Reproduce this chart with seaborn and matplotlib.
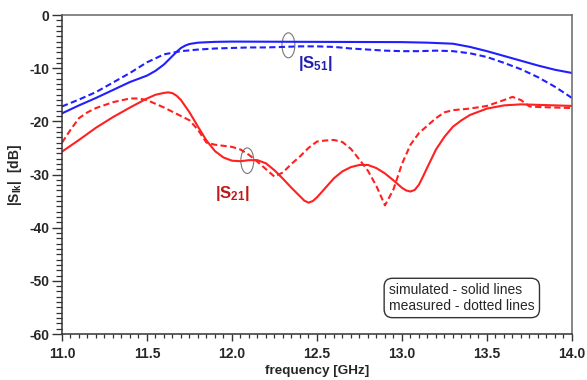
import matplotlib
matplotlib.use("Agg")
import matplotlib.pyplot as plt
from matplotlib.patches import Ellipse
from matplotlib.ticker import MultipleLocator
import pandas as pd
import seaborn as sns

# |S51| simulated
f_s51_sim = [11.0, 11.1, 11.2, 11.3, 11.4, 11.5, 11.55, 11.6, 11.625, 11.65, 11.675, 11.7,
             11.725, 11.75, 11.8, 11.9, 12.0, 12.5, 13.0, 13.15, 13.3, 13.4, 13.5, 13.6,
             13.7, 13.8, 13.9, 14.0]
s51_sim = [-18.5, -17.0, -15.6, -14.1, -12.6, -11.4, -10.5, -9.3, -8.5, -7.7, -6.9, -6.2,
           -5.75, -5.45, -5.2, -5.05, -5.0, -5.05, -5.1, -5.2, -5.4, -6.0, -6.8, -7.7,
           -8.6, -9.5, -10.3, -10.9]

# |S51| measured
f_s51_meas = [11.0, 11.1, 11.2, 11.3, 11.4, 11.5, 11.6, 11.7, 11.8, 11.9, 12.0, 12.1, 12.2,
              12.3, 12.4, 12.5, 12.6, 12.7, 12.8, 12.9, 13.0, 13.1, 13.2, 13.3, 13.4, 13.5,
              13.6, 13.7, 13.8, 13.9, 14.0]
s51_meas = [-17.2, -15.9, -14.5, -12.7, -10.9, -8.9, -7.4, -6.8, -6.5, -6.3, -6.2, -6.1, -6.1,
            -6.0, -5.9, -5.9, -6.0, -6.3, -6.5, -6.7, -6.8, -6.8, -6.7, -6.8, -7.2, -7.9,
            -9.0, -10.2, -11.7, -13.5, -15.6]

# |S21| simulated
f_s21_sim = [11.0, 11.1, 11.2, 11.3, 11.4, 11.5, 11.55, 11.6, 11.625, 11.65, 11.675, 11.7,
             11.75, 11.8, 11.85, 11.9, 11.95, 12.0, 12.05, 12.1, 12.15, 12.2, 12.25, 12.3,
             12.35, 12.4, 12.425, 12.45, 12.475, 12.5, 12.55, 12.6, 12.65, 12.7, 12.75, 12.8,
             12.85, 12.9, 12.95, 13.0, 13.025, 13.05, 13.075, 13.1, 13.125, 13.15, 13.2,
             13.25, 13.3, 13.35, 13.4, 13.5, 13.6, 13.7, 13.8, 13.9, 14.0]
s21_sim = [-25.7, -23.5, -21.2, -19.2, -17.4, -15.7, -15.0, -14.65, -14.55, -14.7, -15.2, -16.0,
           -18.3, -21.0, -23.6, -25.6, -26.8, -27.4, -27.5, -27.3, -27.3, -27.9, -29.2, -30.8,
           -32.5, -34.1, -34.9, -35.3, -35.0, -34.3, -32.5, -30.7, -29.4, -28.6, -28.2, -28.2,
           -28.8, -29.8, -31.1, -32.5, -33.0, -33.2, -32.9, -31.9, -30.3, -28.6, -25.3,
           -22.9, -21.0, -19.8, -18.8, -17.6, -17.0, -16.8, -16.9, -17.0, -17.1]

# |S21| measured
f_s21_meas = [11.0, 11.05, 11.1, 11.15, 11.2, 11.3, 11.4, 11.45, 11.5, 11.6, 11.7, 11.75, 11.8,
              11.85, 11.9, 11.95, 12.0, 12.05, 12.1, 12.15, 12.2, 12.25, 12.3, 12.35, 12.4,
              12.45, 12.5, 12.55, 12.6, 12.65, 12.7, 12.75, 12.8, 12.85, 12.9, 12.95, 13.0,
              13.05, 13.1, 13.15, 13.2, 13.25, 13.3, 13.4, 13.5, 13.6, 13.65, 13.7, 13.75,
              13.8, 13.9, 14.0]
s21_meas = [-24.0, -21.6, -19.4, -18.3, -17.5, -16.4, -15.7, -15.7, -16.0, -17.4, -19.0, -19.8,
            -21.6, -24.0, -24.4, -24.6, -24.8, -25.3, -26.3, -27.6, -29.0, -30.4, -29.6, -28.0,
            -26.6, -25.0, -23.8, -23.6, -23.5, -23.9, -25.2, -27.2, -29.3, -32.2, -35.8, -32.8,
            -28.0, -24.4, -22.2, -20.8, -19.4, -18.3, -17.9, -17.6, -17.1, -16.0, -15.4, -16.0,
            -17.2, -17.3, -17.4, -17.5]

x_ticks = [11.0, 11.5, 12.0, 12.5, 13.0, 13.5, 14.0]
y_ticks = [0, -10, -20, -30, -40, -50, -60]

BLUE = "#1f1fff"
RED = "#ff2020"

sns.set_style("ticks")
plt.rcParams["font.family"] = ["Liberation Sans", "DejaVu Sans"]
plt.rcParams["mathtext.fontset"] = "custom"
plt.rcParams["mathtext.rm"] = "Liberation Sans:bold"
plt.rcParams["mathtext.it"] = "Liberation Sans:bold"
plt.rcParams["mathtext.bf"] = "Liberation Sans:bold"

fig = plt.figure(figsize=(5.87, 3.80), dpi=100)
ax = fig.add_axes([0.1056, 0.121, 0.8688, 0.8395])

series = [
    (f_s51_sim, s51_sim, BLUE, False),
    (f_s51_meas, s51_meas, BLUE, True),
    (f_s21_sim, s21_sim, RED, False),
    (f_s21_meas, s21_meas, RED, True),
]
for freq, vals, col, dashed in series:
    df = pd.DataFrame({"freq": freq, "val": vals})
    sns.lineplot(data=df, x="freq", y="val", ax=ax, color=col, lw=1.5,
                 estimator=None, sort=True, legend=False,
                 linestyle="--" if dashed else "-")
    if dashed:
        ax.lines[-1].set_dashes((3.0, 1.6))

ax.set_xlim(11.0, 14.0)
ax.set_ylim(-60, 0)
ax.set_xticks(x_ticks)
ax.set_yticks(y_ticks)
ax.set_xticklabels([f"{v:.1f}" for v in x_ticks], fontweight="bold", fontsize=10)
ax.set_yticklabels([str(v) for v in y_ticks], fontweight="bold", fontsize=10)
ax.xaxis.set_minor_locator(MultipleLocator(0.05))
ax.yaxis.set_minor_locator(MultipleLocator(1))
ax.tick_params(axis="x", which="major", length=5, width=1, pad=4, color="#333333")
ax.tick_params(axis="x", which="minor", length=3, width=0.9, color="#333333")
ax.tick_params(axis="y", which="major", length=7, width=1, pad=2, color="#333333")
ax.tick_params(axis="y", which="minor", length=4, width=0.9, color="#333333")
for side in ["left", "bottom"]:
    ax.spines[side].set_color("#333333")
    ax.spines[side].set_linewidth(1.1)
for side in ["top", "right"]:
    ax.spines[side].set_color("#666666")
    ax.spines[side].set_linewidth(1.1)

ax.set_xlabel("frequency [GHz]", fontweight="bold", fontsize=9.7, labelpad=3)
ax.set_ylabel(r"|S$_{lk}$|  [dB]", fontweight="bold", fontsize=10, labelpad=4)

# ellipse markers and curve names
ax.add_patch(Ellipse((12.332, -5.7), 0.076, 4.7, fill=False, ec="#777777", lw=0.8))
ax.add_patch(Ellipse((12.09, -27.4), 0.076, 4.8, fill=False, ec="#777777", lw=0.8))
ax.text(12.39, -9.2, r"|S$_{51}$|", color="#2020b0", fontsize=12, fontweight="bold",
        ha="left", va="center")
ax.text(11.90, -33.6, r"|S$_{21}$|", color="#c01818", fontsize=12, fontweight="bold",
        ha="left", va="center")

ax.text(0.784, 0.113, "simulated - solid lines\nmeasured - dotted lines",
        transform=ax.transAxes, ha="center", va="center", multialignment="left",
        fontsize=10, linespacing=1.15,
        bbox=dict(boxstyle="round,pad=0.35,rounding_size=0.6", fc="white",
                  ec="#333333", lw=1.0))

fig.savefig("out.png", dpi=100)
